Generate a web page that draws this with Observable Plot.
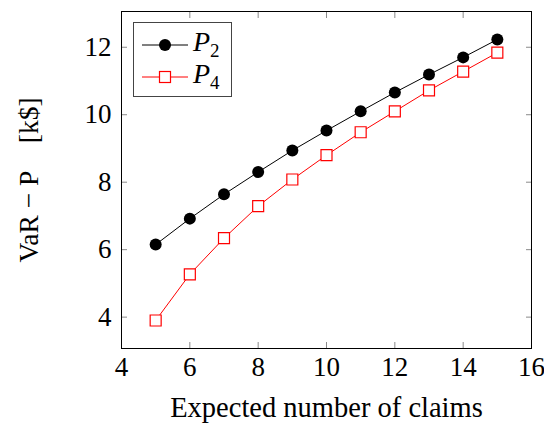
<!DOCTYPE html>
<html>
<head>
<meta charset="utf-8">
<script src="https://cdn.jsdelivr.net/npm/d3@7"></script>
<script src="https://cdn.jsdelivr.net/npm/@observablehq/plot@0.6"></script>
<style>
  html, body { margin: 0; padding: 0; background: #fff; }
  #wrap { position: relative; width: 544px; height: 423px; font-family: "Liberation Serif", serif; }
  #legend { position: absolute; left: 133px; top: 22px; width: 99px; height: 75px; border: 1px solid #444; background: #fff; box-sizing: border-box; }
  #legend .row { position: absolute; left: 0; height: 32px; width: 100%; }
  #legend svg { position: absolute; left: 0; top: 0; }
  #legend .lbl { position: absolute; left: 59px; top: -3px; font-size: 28px; font-style: italic; line-height: 32px; }
  #legend .lbl sub { font-style: normal; font-size: 19px; vertical-align: -6px; line-height: 0; }
</style>
</head>
<body>
<div id="wrap">
  <div id="chart"></div>
  <div id="legend">
    <div class="row" style="top:6px">
      <svg width="60" height="32"><line x1="8" x2="54" y1="16" y2="16" stroke="black" stroke-width="1"/><circle cx="31" cy="16" r="6" fill="black"/></svg>
      <span class="lbl">P<sub>2</sub></span>
    </div>
    <div class="row" style="top:38px">
      <svg width="60" height="32"><line x1="8" x2="54" y1="16" y2="16" stroke="red" stroke-width="1"/><rect x="25.5" y="10.5" width="11" height="11" fill="white" stroke="red" stroke-width="1.2"/></svg>
      <span class="lbl">P<sub>4</sub></span>
    </div>
  </div>
</div>
<script>
const claims = [5, 6, 7, 8, 9, 10, 11, 12, 13, 14, 15];
const p2 = [6.15, 6.92, 7.64, 8.30, 8.94, 9.53, 10.10, 10.66, 11.19, 11.70, 12.23];
const p4 = [3.90, 5.27, 6.34, 7.29, 8.08, 8.80, 9.48, 10.10, 10.72, 11.28, 11.84];
const xTicks = [4, 6, 8, 10, 12, 14, 16];
const yTicks = [4, 6, 8, 10, 12];
const xLabel = "Expected number of claims";
const yLabel = "VaR \u2212 P\u2003[k$]";

const d2 = claims.map((x, i) => ({x, y: p2[i]}));
const d4 = claims.map((x, i) => ({x, y: p4[i]}));

const tickColor = "#8a8a8a";
const chart = Plot.plot({
  width: 544,
  height: 423,
  marginLeft: 121,
  marginRight: 13,
  marginTop: 11,
  marginBottom: 75,
  style: {fontFamily: "Liberation Serif, serif", fontSize: "27px", background: "white", color: "black"},
  x: {domain: [4, 16]},
  y: {domain: [3.07, 13.06]},
  marks: [
    Plot.axisX({ticks: xTicks, tickSize: 0, tickPadding: 8, label: null}),
    Plot.axisX({ticks: xTicks, anchor: "bottom", tickSize: -6, stroke: tickColor, tickFormat: () => "", label: null}),
    Plot.axisX({ticks: xTicks, anchor: "top", tickSize: -6, stroke: tickColor, tickFormat: () => "", label: null}),
    Plot.axisY({ticks: yTicks, tickSize: 0, tickPadding: 10, label: null}),
    Plot.axisY({ticks: yTicks, anchor: "left", tickSize: -6, stroke: tickColor, tickFormat: () => "", label: null}),
    Plot.axisY({ticks: yTicks, anchor: "right", tickSize: -6, stroke: tickColor, tickFormat: () => "", label: null}),
    Plot.text([xLabel], {frameAnchor: "bottom", dy: 59, lineAnchor: "middle", textAnchor: "middle", text: d => d, fontSize: 28.5}),
    Plot.text([yLabel], {frameAnchor: "left", dx: -92, rotate: -90, lineAnchor: "middle", textAnchor: "middle", text: d => d, fontSize: 27.5}),
    Plot.frame({stroke: "black", strokeWidth: 1}),
    Plot.line(d2, {x: "x", y: "y", stroke: "black", strokeWidth: 1}),
    Plot.dot(d2, {x: "x", y: "y", r: 6, fill: "black"}),
    Plot.line(d4, {x: "x", y: "y", stroke: "red", strokeWidth: 1}),
    Plot.dot(d4, {x: "x", y: "y", symbol: "square", r: 6.2, fill: "white", stroke: "red", strokeWidth: 1.2})
  ]
});
document.getElementById("chart").appendChild(chart);
</script>
</body>
</html>
